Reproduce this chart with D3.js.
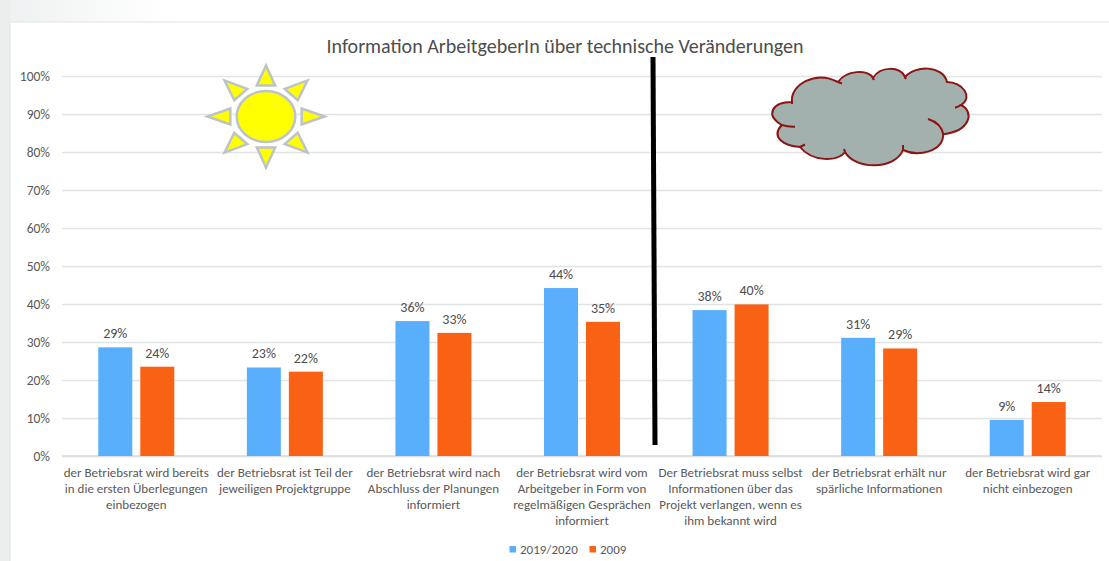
<!DOCTYPE html>
<html lang="de">
<head>
<meta charset="utf-8">
<script src="https://cdn.jsdelivr.net/npm/d3@7"></script>
<style>
  html, body { margin: 0; padding: 0; background: #fff; overflow: hidden; }
  text { font-family: Carlito, "Open Sans", "Noto Sans", sans-serif; }
</style>
</head>
<body>
<div id="chart"></div>
<script>
// Values (percent)
const categories = [
  ['der Betriebsrat wird bereits', 'in die ersten Überlegungen', 'einbezogen'],
  ['der Betriebsrat ist Teil der', 'jeweiligen Projektgruppe'],
  ['der Betriebsrat wird nach', 'Abschluss der Planungen', 'informiert'],
  ['der Betriebsrat wird vom', 'Arbeitgeber in Form von', 'regelmäßigen Gesprächen', 'informiert'],
  ['Der Betriebsrat muss selbst', 'Informationen über das', 'Projekt verlangen, wenn es', 'ihm bekannt wird'],
  ['der Betriebsrat erhält nur', 'spärliche Informationen'],
  ['der Betriebsrat wird gar', 'nicht einbezogen']
];
const seriesNames = ['2019/2020', '2009'];
const values2020 = [28.6, 23.3, 35.5, 44.2, 38.4, 31.1, 9.5];
const values2009 = [23.5, 22.2, 32.4, 35.3, 39.9, 28.3, 14.2];
const labels2020 = ['29%', '23%', '36%', '44%', '38%', '31%', '9%'];
const labels2009 = ['24%', '22%', '33%', '35%', '40%', '29%', '14%'];
const yTicks = [0, 10, 20, 30, 40, 50, 60, 70, 80, 90, 100];
const colors = ['#5aaffc', '#f96214'];

const W = 1109, H = 561;
const CFG = { left: 62, right: 1102, top: 76, bottom: 456, barWidth: 34, barGap: 8 };
const textColor = '#595959';

const svg = d3.select('#chart').append('svg')
  .attr('width', W).attr('height', H)
  .style('display', 'block');

// Slide background: grey left column, top strip fading out to white
const fade = svg.append('defs').append('linearGradient').attr('id', 'top-fade');
fade.append('stop').attr('offset', 0).attr('stop-color', '#eef1f1');
fade.append('stop').attr('offset', 1).attr('stop-color', '#fff');
svg.append('rect').attr('width', 170).attr('height', 22).attr('fill', 'url(#top-fade)');
svg.append('rect').attr('width', 10).attr('height', H).attr('fill', '#eceeed');
svg.append('rect').attr('x', 10).attr('y', 22).attr('width', W).attr('height', H)
  .attr('fill', '#fff').attr('stroke', '#e2e6e5').attr('stroke-width', 1);

const x = d3.scaleBand().domain(d3.range(categories.length)).range([CFG.left, CFG.right]);
const y = d3.scaleLinear().domain([0, 100]).range([CFG.bottom, CFG.top]);

// Gridlines and y labels
const yAxis = svg.append('g')
  .attr('transform', `translate(${CFG.left},0)`)
  .call(d3.axisLeft(y).tickValues(yTicks).tickFormat(d => d + '%')
    .tickSize(-(CFG.right - CFG.left)).tickPadding(12));
yAxis.select('.domain').remove();
yAxis.selectAll('line').attr('stroke', '#e1e4e4').attr('stroke-width', 1.3);
yAxis.selectAll('text').attr('fill', textColor).attr('font-size', 13.5)
  .style('font-family', 'Carlito, "Open Sans", sans-serif');

// Baseline
svg.append('line')
  .attr('x1', CFG.left).attr('x2', CFG.right)
  .attr('y1', y(0)).attr('y2', y(0))
  .attr('stroke', '#d8dcdc').attr('stroke-width', 1.3);

// Bars and value labels
const drawSeries = (vals, labels, color, side) => {
  const barX = i => x(i) + x.bandwidth() / 2 +
    (side < 0 ? -CFG.barGap / 2 - CFG.barWidth : CFG.barGap / 2);

  svg.append('g').selectAll('rect').data(vals).join('rect')
    .attr('x', (d, i) => barX(i))
    .attr('y', d => y(d))
    .attr('width', CFG.barWidth)
    .attr('height', d => y(0) - y(d))
    .attr('fill', color);

  svg.append('g').selectAll('text').data(vals).join('text')
    .attr('x', (d, i) => barX(i) + CFG.barWidth / 2)
    .attr('y', d => y(d) - 9)
    .attr('text-anchor', 'middle')
    .attr('font-size', 14)
    .attr('fill', '#4d4d4d')
    .text((d, i) => labels[i]);
};
drawSeries(values2020, labels2020, colors[0], -1);
drawSeries(values2009, labels2009, colors[1], 1);

// Category labels
categories.forEach((lines, i) => {
  svg.append('text')
    .attr('text-anchor', 'middle')
    .attr('font-size', 13)
    .attr('fill', textColor)
    .selectAll('tspan').data(lines).join('tspan')
    .attr('x', x(i) + x.bandwidth() / 2)
    .attr('y', (d, j) => 477 + j * 16)
    .text(d => d);
});

// Title
svg.append('text')
  .attr('x', 565).attr('y', 53)
  .attr('text-anchor', 'middle')
  .attr('font-size', 20)
  .attr('fill', '#4d4d4d')
  .text('Information ArbeitgeberIn über technische Veränderungen');

// Black divider drawn over the chart
svg.append('line')
  .attr('x1', 653).attr('y1', 57)
  .attr('x2', 655).attr('y2', 445)
  .attr('stroke', '#000').attr('stroke-width', 5);

// Legend
const legend = svg.append('g');
[[509.5, 520, 0], [589.5, 600, 1]].forEach(([sx, tx, k]) => {
  legend.append('rect').attr('x', sx).attr('y', 546).attr('width', 6.5).attr('height', 6.5).attr('fill', colors[k]);
  legend.append('text').attr('x', tx).attr('y', 554)
    .attr('font-size', 13).attr('fill', textColor).text(seriesNames[k]);
});

// Sun: disc plus eight triangular rays, stretched sideways
const sun = svg.append('g').attr('transform', 'translate(266,116.5) scale(1.15,1)');
const sunStyle = s => s.attr('fill', '#ffff00').attr('stroke', '#bcc4c8')
  .attr('stroke-width', 2.5).attr('vector-effect', 'non-scaling-stroke');
sun.append('circle').attr('r', 25.5).call(sunStyle);
d3.range(8).forEach(k => {
  sun.append('path')
    .attr('d', 'M-8,-31 L0,-51 L8,-31 Z')
    .attr('transform', `rotate(${k * 45})`)
    .call(sunStyle);
});

// Cloud: lobes joined at cusps, with the small inner strokes of the shape
const cloudPath = [
  'M781.7,125',
  'C765,115 772,102 792,102',
  'C790,85 815,70 838,82',
  'C846,70 868,69 873,78',
  'C880,66 900,66 905,77',
  'C915,65 943,65 947,82',
  'C962,82 974,97 961,105',
  'C975,112 970,131 943.3,134.3',
  'C943,152 918,157 903,150',
  'C895,170 855,170 845,152',
  'C838,162 812,162 800,147',
  'C785,146 770,138 781.7,125 Z'
].join(' ');
const cloudInner = [
  'M781.7,125 Q788,127 795,126.7',
  'M792,102 L792,104',
  'M838,82 L842,83.5',
  'M873,78 L874,80',
  'M905,77 L906,79',
  'M961,105 Q958,107 955,107.7',
  'M928,119 Q941,123 943.3,134.3',
  'M903,150 L903,145',
  'M845,152 L844,149',
  'M800,147 L805,144.5'
].join(' ');
svg.append('path').attr('d', cloudPath)
  .attr('fill', '#a3b1ae').attr('stroke', '#8b1414').attr('stroke-width', 2);
svg.append('path').attr('d', cloudInner)
  .attr('fill', 'none').attr('stroke', '#8b1414').attr('stroke-width', 2);
</script>
</body>
</html>
